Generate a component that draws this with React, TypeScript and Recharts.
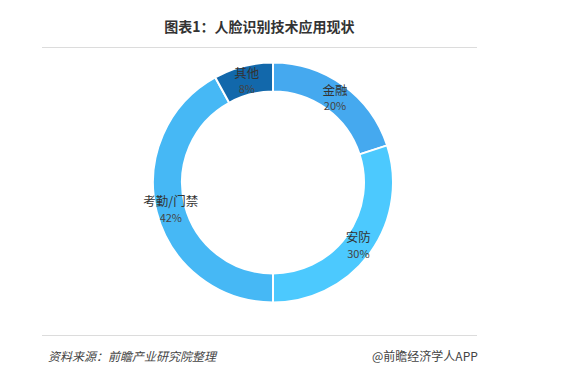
import React from "react";
import { PieChart, Pie, Cell } from "recharts";

const categories = ["金融", "安防", "考勤/门禁", "其他"];
const shares = [20, 30, 42, 8];
const colors = ["#45A9EF", "#4CC9FE", "#46B8F5", "#1268AB"];
const title = "图表1：人脸识别技术应用现状";
const sourceText = "资料来源：前瞻产业研究院整理";
const brandText = "@前瞻经济学人APP";

const data = categories.map((name, i) => ({ name, value: shares[i] }));

const FONT = '"Noto Sans CJK SC", "Noto Sans", sans-serif';
const RAD = Math.PI / 180;

const renderLabel = (props: any) => {
  const { cx, cy, midAngle, innerRadius, outerRadius, name, value } = props;
  const r = (innerRadius + outerRadius) / 2;
  const x = cx + r * Math.cos(-midAngle * RAD);
  const y = cy + r * Math.sin(-midAngle * RAD);
  return (
    <g>
      <text x={x} y={y - 8} textAnchor="middle" dominantBaseline="central" fontSize={12.5} fill="#333" fontFamily={FONT}>
        {name}
      </text>
      <text x={x} y={y + 8} textAnchor="middle" dominantBaseline="central" fontSize={11} fill="#444" fontFamily={FONT}>
        {value}%
      </text>
    </g>
  );
};

export default function App() {
  return (
    <div style={{ position: "absolute", left: 0, top: 0, width: 572, height: 373, background: "#fff", fontFamily: FONT }}>
      <div style={{ position: "absolute", left: 42, width: 435, top: 16, textAlign: "center", fontSize: 14, fontWeight: "bold", color: "#333", lineHeight: "20px" }}>
        {title}
      </div>
      <div style={{ position: "absolute", left: 42, width: 435, top: 47, height: 1, background: "#DCDCDC" }} />
      <div style={{ position: "absolute", left: 0, top: 0 }}>
        <PieChart width={572} height={373} margin={{ top: 0, right: 0, bottom: 0, left: 0 }}>
          <Pie
            data={data}
            dataKey="value"
            nameKey="name"
            cx={273}
            cy={182.5}
            innerRadius={91}
            outerRadius={120}
            startAngle={90}
            endAngle={-270}
            stroke="#fff"
            strokeWidth={2}
            label={renderLabel}
            labelLine={false}
            isAnimationActive={false}
          >
            {data.map((d, i) => (
              <Cell key={d.name} fill={colors[i]} />
            ))}
          </Pie>
        </PieChart>
      </div>
      <div style={{ position: "absolute", left: 42, width: 435, top: 335, height: 1, background: "#DCDCDC" }} />
      <div style={{ position: "absolute", left: 48, top: 347, fontSize: 12, fontStyle: "italic", color: "#444", lineHeight: "18px" }}>
        {sourceText}
      </div>
      <div style={{ position: "absolute", left: 372, top: 347, fontSize: 12, color: "#444", lineHeight: "18px" }}>
        {brandText}
      </div>
    </div>
  );
}
